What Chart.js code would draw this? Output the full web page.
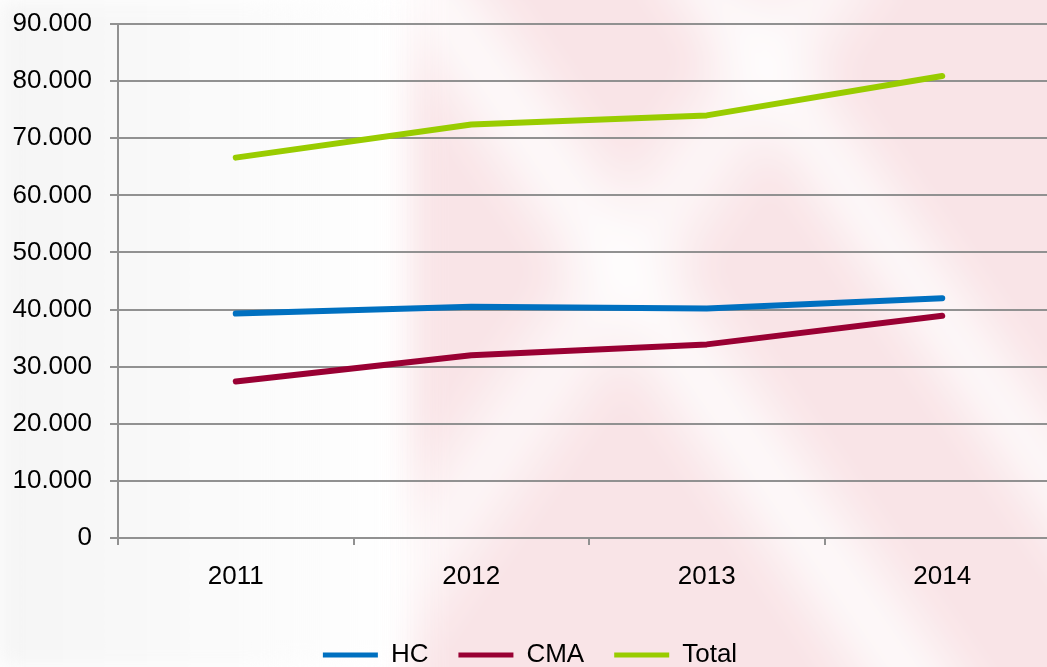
<!DOCTYPE html>
<html>
<head>
<meta charset="utf-8">
<script src="https://cdn.jsdelivr.net/npm/chart.js@4"></script>
<style>
  html, body { margin: 0; padding: 0; overflow: hidden; background: #fff; }
  #wrap { position: relative; width: 1047px; height: 667px; overflow: hidden; }
  #bg {
    position: absolute; left: 410px; top: -40px; width: 700px; height: 760px;
    background:
      linear-gradient(55deg, rgba(255,255,255,0) 36%, rgba(255,255,255,0.9) 43%, rgba(255,255,255,0) 50%),
      linear-gradient(55deg, rgba(255,255,255,0) 60%, rgba(255,255,255,0.85) 66%, rgba(255,255,255,0) 72%),
      linear-gradient(125deg, rgba(255,255,255,0) 28%, rgba(255,255,255,0.75) 35%, rgba(255,255,255,0) 42%),
      #f7d9dd;
    filter: blur(16px);
    opacity: 0.7;
  }
  #lefttint {
    position: absolute; left: 0; top: 0; width: 420px; height: 667px;
    background: linear-gradient(90deg, #f5f5f5 0%, #fbfbfb 60%, rgba(255,255,255,0) 100%);
    filter: blur(10px);
  }
  canvas { position: absolute; left: 0; top: 0; }
</style>
</head>
<body>
<div id="wrap">
  <div id="lefttint"></div>
  <div id="bg"></div>
  <canvas id="trend-chart" width="1062" height="678"></canvas>
</div>
<script>
let years = ['2011', '2012', '2013', '2014'];
let hc_values = [39300, 40500, 40200, 42000];
let cma_values = [27400, 32000, 33900, 38900];
let total_values = [66600, 72400, 74000, 80900];

let colors = {
    hc: '#0070C0',
    cma: '#990033',
    total: '#99CC00',
    grid: '#919191',
    text: '#000000'
}

function formatThousands(v) {
    if (v === 0) return '0';
    return String(v).replace(/\B(?=(\d{3})+(?!\d))/g, '.');
}

function lineSet(label, values, color) {
    return {
        label: label,
        data: values,
        borderColor: color,
        backgroundColor: color,
        borderWidth: 6,
        borderCapStyle: 'round',
        borderJoinStyle: 'round',
        pointRadius: 0,
        pointHoverRadius: 0,
        tension: 0,
        fill: false
    }
}

let data = {
    labels: years,
    datasets: [
        lineSet('HC', hc_values, colors.hc),
        lineSet('CMA', cma_values, colors.cma),
        lineSet('Total', total_values, colors.total)
    ]
}

Chart.defaults.font.family = '"Liberation Sans", Arial, sans-serif';
Chart.defaults.font.size = 26;
Chart.defaults.color = colors.text;

let options = {
    responsive: false,
    animation: false,
    layout: {
        padding: { top: 0, right: 2, left: 0, bottom: 0 }
    },
    plugins: {
        title: { display: false },
        tooltip: { enabled: false },
        legend: {
            display: true,
            position: 'bottom',
            labels: {
                padding: 30,
                boxWidth: 55,
                boxHeight: 5,
                generateLabels: chart => chart.data.datasets.map((ds, i) => ({
                    text: ds.label,
                    fillStyle: ds.borderColor,
                    strokeStyle: ds.borderColor,
                    lineWidth: 0,
                    datasetIndex: i,
                    hidden: false
                }))
            }
        }
    },
    scales: {
        x: {
            type: 'category',
            offset: true,
            afterFit: axis => { axis.height = 74; },
            grid: {
                offset: true,
                drawOnChartArea: false,
                drawTicks: true,
                tickLength: 7,
                color: colors.grid,
                lineWidth: 2
            },
            border: { display: true, color: colors.grid, width: 2 },
            ticks: { padding: 16, color: colors.text }
        },
        y: {
            min: 0,
            max: 90000,
            afterFit: axis => {
                axis.width = 118;
                axis.paddingTop = 24;
                axis.paddingBottom = 0;
            },
            grid: {
                drawTicks: true,
                tickLength: 8,
                color: colors.grid,
                lineWidth: 2
            },
            border: { display: true, color: colors.grid, width: 2 },
            ticks: {
                stepSize: 10000,
                padding: 18,
                color: colors.text,
                callback: value => formatThousands(value)
            }
        }
    }
}

let ctx = document.getElementById('trend-chart').getContext('2d');
window.trendChart = new Chart(ctx, { type: 'line', data: data, options: options });
</script>
</body>
</html>
